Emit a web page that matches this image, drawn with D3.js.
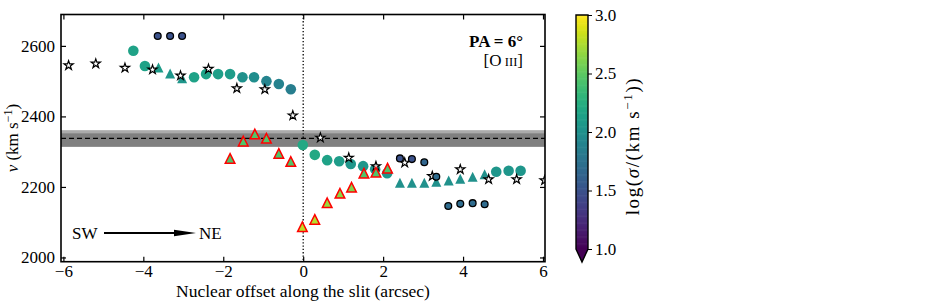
<!DOCTYPE html>
<html>
<head>
<meta charset="utf-8">
<script src="https://cdn.jsdelivr.net/npm/d3@7"></script>
<style>
  body { margin: 0; background: #fff; }
  text { font-family: "Liberation Serif", "DejaVu Serif", serif; }
</style>
</head>
<body>
<div id="chart"></div>
<script>
// chart values

// stars (white fill, black edge)
const starX = [-5.87, -5.19, -4.46, -3.77, -3.07, -2.37, -1.66, -0.96, -0.26, 0.43, 1.14, 1.82, 2.54, 3.23, 3.93, 4.64, 5.34, 6.04];
const starV = [2546, 2551, 2539, 2534, 2517, 2536, 2481, 2478, 2404, 2341, 2284, 2260, 2270, 2232, 2251, 2223, 2223, 2220];

// big filled circles
const circX = [-4.25, -3.96, -2.73, -2.43, -2.13, -1.83, -1.52, -1.23, -0.92, -0.61, -0.31, -0.01, 0.29, 0.6, 0.9, 1.19, 1.5, 1.8, 2.1, 4.83, 5.14, 5.44];
const circV = [2586, 2543, 2511, 2520, 2520, 2520, 2511, 2511, 2500, 2492, 2477, 2319, 2291, 2276, 2273, 2265, 2259, 2250, 2239, 2243, 2246, 2246];
const circS = [2.15, 2.15, 2.15, 2.15, 2.12, 2.1, 2.0, 1.98, 1.9, 1.88, 1.85, 2.2, 2.2, 2.15, 2.1, 2.05, 2.05, 2.05, 2.05, 2.05, 2.05, 2.05];

// filled triangles
const triX = [-3.62, -3.33, -3.03, 2.42, 2.72, 3.03, 3.33, 3.64, 3.93, 4.24, 4.54];
const triV = [2539, 2522, 2508, 2212, 2212, 2212, 2215, 2218, 2223, 2229, 2236];
const triS = [2.1, 2.05, 2.05, 2.0, 2.0, 2.0, 2.0, 2.0, 2.0, 2.0, 2.0];

// small circles with black edge
const dotX = [-3.64, -3.33, -3.03, 2.42, 2.72, 3.03, 3.33, 3.63, 3.93, 4.24, 4.54];
const dotV = [2628, 2628, 2628, 2281, 2279, 2270, 2229, 2146, 2152, 2154, 2151];
const dotS = [1.5, 1.5, 1.5, 1.5, 1.5, 1.65, 1.7, 1.7, 1.7, 1.7, 1.7];

// triangles with red edge
const redX = [-1.83, -1.5, -1.21, -0.92, -0.61, -0.31, -0.02, 0.29, 0.6, 0.92, 1.21, 1.52, 1.82, 2.11];
const redV = [2281, 2330, 2350, 2338, 2295, 2272, 2087, 2108, 2155, 2182, 2199, 2239, 2242, 2253];
const redS = [2.45, 2.45, 2.45, 2.45, 2.45, 2.45, 2.8, 2.78, 2.7, 2.65, 2.62, 2.45, 2.45, 2.45];

// systemic velocity and its band
const vSys = 2338;
const bandOuter = [2314, 2361];
const bandInner = [2314, 2352];

const xTicks = [-6, -4, -2, 0, 2, 4, 6];
const yTicks = [2000, 2200, 2400, 2600];
const cTicks = [1.0, 1.5, 2.0, 2.5, 3.0];

// Set dimensions
const width = 926, height = 305;
const plot = { left: 61, right: 545, top: 14.5, bottom: 261.7 };
const cbar = { left: 576, right: 588, top: 15, bottom: 249, tip: 262 };
const fs = "17px";

const svg = d3.select("#chart")
  .append("svg")
  .attr("width", width)
  .attr("height", height);

// scales
const x = d3.scaleLinear().domain([-6.06, 6.05]).range([plot.left, plot.right]);
const y = d3.scaleLinear().domain([1988, 2689]).range([plot.bottom, plot.top]);
const col = d3.scaleSequential(d3.interpolateViridis).domain([1, 3]).clamp(true);

svg.append("clipPath").attr("id", "clip")
  .append("rect")
  .attr("x", plot.left).attr("y", plot.top)
  .attr("width", plot.right - plot.left).attr("height", plot.bottom - plot.top);

const g = svg.append("g").attr("clip-path", "url(#clip)");

// band and reference lines
g.append("rect")
  .attr("x", plot.left).attr("width", plot.right - plot.left)
  .attr("y", y(bandOuter[1])).attr("height", y(bandOuter[0]) - y(bandOuter[1]))
  .attr("fill", "#ababab");
g.append("rect")
  .attr("x", plot.left).attr("width", plot.right - plot.left)
  .attr("y", y(bandInner[1])).attr("height", y(bandInner[0]) - y(bandInner[1]))
  .attr("fill", "#808080");
g.append("line")
  .attr("x1", plot.left).attr("x2", plot.right)
  .attr("y1", y(vSys)).attr("y2", y(vSys))
  .attr("stroke", "#000").attr("stroke-width", 1.3).attr("stroke-dasharray", "5,3");
g.append("line")
  .attr("x1", x(0)).attr("x2", x(0))
  .attr("y1", plot.top).attr("y2", plot.bottom)
  .attr("stroke", "#000").attr("stroke-width", 1.3).attr("stroke-dasharray", "1.3,2");

// matplotlib-like "^" marker: size is half-width in px
const triUp = {
  draw(ctx, a) {
    ctx.moveTo(0, -a);
    ctx.lineTo(a, a);
    ctx.lineTo(-a, a);
    ctx.closePath();
  }
};
const starSym = d3.symbol().type(d3.symbolStar).size(26);

// big circles
g.selectAll(".circ")
  .data(circX.map((d, i) => ({ x: d, v: circV[i], s: circS[i] })))
  .enter().append("circle")
  .attr("cx", d => x(d.x)).attr("cy", d => y(d.v)).attr("r", 5.3)
  .attr("fill", d => col(d.s));

// filled triangles
g.selectAll(".tri")
  .data(triX.map((d, i) => ({ x: d, v: triV[i], s: triS[i] })))
  .enter().append("path")
  .attr("transform", d => `translate(${x(d.x)},${y(d.v)})`)
  .attr("d", d3.symbol().type(triUp).size(5))
  .attr("fill", d => col(d.s));

// stars
g.selectAll(".star")
  .data(starX.map((d, i) => ({ x: d, v: starV[i] })))
  .enter().append("path")
  .attr("transform", d => `translate(${x(d.x)},${y(d.v) + 0.5})`)
  .attr("d", starSym)
  .attr("fill", "#fff").attr("stroke", "#000").attr("stroke-width", 1.2)
  .attr("stroke-linejoin", "miter");

// small circles
g.selectAll(".dot")
  .data(dotX.map((d, i) => ({ x: d, v: dotV[i], s: dotS[i] })))
  .enter().append("circle")
  .attr("cx", d => x(d.x)).attr("cy", d => y(d.v)).attr("r", 3.4)
  .attr("fill", d => col(d.s)).attr("stroke", "#000").attr("stroke-width", 1.3);

// red edged triangles
g.selectAll(".red")
  .data(redX.map((d, i) => ({ x: d, v: redV[i], s: redS[i] })))
  .enter().append("path")
  .attr("transform", d => `translate(${x(d.x)},${y(d.v)})`)
  .attr("d", d3.symbol().type(triUp).size(4.8))
  .attr("fill", d => col(d.s)).attr("stroke", "#ff0000").attr("stroke-width", 1.5)
  .attr("stroke-linejoin", "miter");

// axes, ticks inward on all sides
const tickLen = 5;
svg.append("g")
  .attr("transform", `translate(0,${plot.bottom})`)
  .call(d3.axisBottom(x).tickValues(xTicks).tickSizeInner(-tickLen).tickSizeOuter(0).tickPadding(3)
        .tickFormat(d => d < 0 ? "\u2212" + Math.abs(d) : d))
  .call(a => a.select(".domain").remove())
  .attr("font-size", fs);
svg.append("g")
  .attr("transform", `translate(0,${plot.top})`)
  .call(d3.axisTop(x).tickValues(xTicks).tickSizeInner(-tickLen).tickSizeOuter(0).tickFormat(""))
  .call(a => a.select(".domain").remove());
svg.append("g")
  .attr("transform", `translate(${plot.left},0)`)
  .call(d3.axisLeft(y).tickValues(yTicks).tickSizeInner(-tickLen).tickSizeOuter(0).tickPadding(6)
        .tickFormat(d3.format("d")))
  .call(a => a.select(".domain").remove())
  .attr("font-size", fs);
svg.append("g")
  .attr("transform", `translate(${plot.right},0)`)
  .call(d3.axisRight(y).tickValues(yTicks).tickSizeInner(-tickLen).tickSizeOuter(0).tickFormat(""))
  .call(a => a.select(".domain").remove());
svg.selectAll(".tick line").attr("stroke-width", 1.2);
svg.selectAll(".tick text").attr("fill", "#000").attr("font-family", "Liberation Serif, serif");

svg.append("rect")
  .attr("x", plot.left).attr("y", plot.top)
  .attr("width", plot.right - plot.left).attr("height", plot.bottom - plot.top)
  .attr("fill", "none").attr("stroke", "#000").attr("stroke-width", 1.6);

// axis labels
svg.append("text")
  .attr("x", (plot.left + plot.right) / 2).attr("y", 297)
  .attr("text-anchor", "middle").attr("font-size", "17.5px")
  .text("Nuclear offset along the slit (arcsec)");

const yl = svg.append("text")
  .attr("transform", `translate(18,${(plot.top + plot.bottom) / 2}) rotate(-90)`)
  .attr("text-anchor", "middle").attr("font-size", fs);
yl.append("tspan").attr("font-style", "italic").text("v");
yl.append("tspan").text(" (km s");
yl.append("tspan").attr("font-size", "12px").attr("dy", -6).text("\u22121");
yl.append("tspan").attr("dy", 6).text(")");

// annotations
svg.append("text")
  .attr("x", 523).attr("y", 47)
  .attr("text-anchor", "end").attr("font-size", fs).attr("font-weight", "bold")
  .text("PA = 6\u00b0");
const ol = svg.append("text")
  .attr("x", 523).attr("y", 66)
  .attr("text-anchor", "end").attr("font-size", fs);
ol.append("tspan").text("[O\u2009");
ol.append("tspan").attr("font-size", "12.5px").text("III");
ol.append("tspan").text("]");

svg.append("text")
  .attr("x", 72).attr("y", 239).attr("font-size", fs).text("SW");
svg.append("text")
  .attr("x", 199).attr("y", 239).attr("font-size", fs).text("NE");
svg.append("line")
  .attr("x1", 104).attr("x2", 176).attr("y1", 233).attr("y2", 233)
  .attr("stroke", "#000").attr("stroke-width", 2);
svg.append("path")
  .attr("d", "M174,229.8 L196,233 L174,236.2 Z")
  .attr("fill", "#000");

// colorbar
const cy = d3.scaleLinear().domain([1, 3]).range([cbar.bottom, cbar.top]);
const steps = d3.range(1, 3, 0.01);
svg.append("g").selectAll("rect")
  .data(steps).enter().append("rect")
  .attr("x", cbar.left).attr("width", cbar.right - cbar.left)
  .attr("y", d => cy(d + 0.01)).attr("height", d => cy(d) - cy(d + 0.01) + 0.6)
  .attr("fill", d => col(d + 0.005));
const cmid = (cbar.left + cbar.right) / 2;
svg.append("path")
  .attr("d", `M${cbar.left},${cbar.bottom} L${cmid},${cbar.tip} L${cbar.right},${cbar.bottom} Z`)
  .attr("fill", col(1));
svg.append("path")
  .attr("d", `M${cbar.left},${cbar.top} L${cbar.right},${cbar.top} L${cbar.right},${cbar.bottom} L${cmid},${cbar.tip} L${cbar.left},${cbar.bottom} Z`)
  .attr("fill", "none").attr("stroke", "#000").attr("stroke-width", 1.4);
svg.append("g")
  .attr("transform", `translate(${cbar.right},0)`)
  .call(d3.axisRight(cy).tickValues(cTicks).tickSize(4).tickPadding(3).tickFormat(d3.format(".1f")))
  .call(a => a.select(".domain").remove())
  .attr("font-size", fs)
  .call(a => a.selectAll("text").attr("fill", "#000").attr("font-family", "Liberation Serif, serif"));

const cl = svg.append("text")
  .attr("transform", `translate(639,146) rotate(-90)`)
  .attr("text-anchor", "middle").attr("font-size", "19px").attr("letter-spacing", "1.6px");
cl.append("tspan").text("log(");
cl.append("tspan").attr("font-style", "italic").text("\u03c3");
cl.append("tspan").text("/(km s");
cl.append("tspan").attr("font-size", "13px").attr("dy", -7).text("\u22121");
cl.append("tspan").attr("dy", 7).text("))");
</script>
</body>
</html>
